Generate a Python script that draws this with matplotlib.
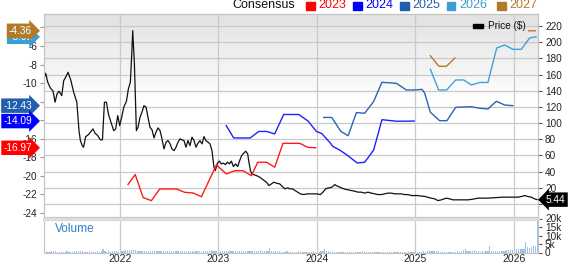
import matplotlib
matplotlib.use("Agg")
import matplotlib.pyplot as plt
import matplotlib.transforms as mtransforms
from matplotlib.patches import Rectangle
import numpy as np

plt.rcParams["font.family"] = ["Liberation Sans", "DejaVu Sans"]

# ---- data (time in decimal years) ----
PRICE_T = [
    2021.236, 2021.249, 2021.270, 2021.297, 2021.324, 2021.344, 2021.364, 2021.384, 2021.412, 2021.432,
    2021.452, 2021.476, 2021.505, 2021.533, 2021.565, 2021.587, 2021.601, 2021.620, 2021.633, 2021.655,
    2021.683, 2021.703, 2021.729, 2021.750, 2021.777, 2021.804, 2021.825, 2021.845, 2021.865, 2021.885,
    2021.906, 2021.939, 2021.959, 2021.980, 2022.000, 2022.020, 2022.041, 2022.068, 2022.088, 2022.108,
    2022.122, 2022.132, 2022.149, 2022.169, 2022.186, 2022.206, 2022.226, 2022.246, 2022.267, 2022.287,
    2022.307, 2022.328, 2022.348, 2022.368, 2022.389, 2022.409, 2022.429, 2022.449, 2022.470, 2022.490,
    2022.511, 2022.530, 2022.551, 2022.571, 2022.591, 2022.612, 2022.632, 2022.652, 2022.672, 2022.693,
    2022.713, 2022.733, 2022.754, 2022.774, 2022.794, 2022.814, 2022.835, 2022.855, 2022.875, 2022.896,
    2022.916, 2022.936, 2022.956, 2022.970, 2022.991, 2023.011, 2023.031, 2023.052, 2023.072, 2023.092,
    2023.113, 2023.133, 2023.153, 2023.176, 2023.197, 2023.217, 2023.237, 2023.258, 2023.278, 2023.298,
    2023.311, 2023.326, 2023.339, 2023.359, 2023.386, 2023.420, 2023.453, 2023.488, 2023.514, 2023.539,
    2023.562, 2023.589, 2023.623, 2023.650, 2023.676, 2023.704, 2023.724, 2023.752, 2023.778, 2023.805,
    2023.833, 2023.866, 2023.900, 2023.934, 2023.968, 2024.001, 2024.036, 2024.062, 2024.089, 2024.117,
    2024.133, 2024.161, 2024.181, 2024.201, 2024.221, 2024.249, 2024.282, 2024.316, 2024.350, 2024.383,
    2024.417, 2024.451, 2024.485, 2024.518, 2024.553, 2024.586, 2024.620, 2024.654, 2024.688, 2024.721,
    2024.756, 2024.789, 2024.823, 2024.857, 2024.890, 2024.924, 2024.958, 2024.992, 2025.025, 2025.060,
    2025.093, 2025.144, 2025.195, 2025.228, 2025.263, 2025.313, 2025.347, 2025.380, 2025.431, 2025.482,
    2025.532, 2025.583, 2025.634, 2025.685, 2025.736, 2025.785, 2025.836, 2025.886, 2025.937, 2025.989,
    2026.039, 2026.073, 2026.108, 2026.141, 2026.175, 2026.209, 2026.234,
]
PRICE = [
    156.7, 161.6, 150.5, 143.5, 139.4, 125.8, 136.0, 139.4, 134.0, 152.5,
    156.7, 162.8, 152.5, 138.1, 125.8, 90.7, 78.4, 72.2, 70.2, 83.3,
    85.8, 88.8, 92.8, 87.5, 84.6, 79.3, 79.3, 125.8, 125.8, 111.4,
    103.1, 90.7, 92.8, 109.3, 96.9, 107.3, 119.6, 127.0, 142.2, 150.5,
    185.4, 214.2, 173.1, 90.7, 94.9, 107.3, 113.5, 121.6, 119.6, 107.3,
    94.9, 91.6, 81.7, 88.8, 94.1, 90.7, 80.5, 68.1, 76.4, 78.4,
    74.3, 68.1, 66.0, 70.2, 76.4, 80.5, 79.3, 78.4, 70.2, 78.4,
    72.2, 82.6, 78.4, 70.2, 75.2, 78.4, 74.3, 83.3, 78.4, 76.4,
    74.3, 66.0, 45.6, 41.4, 50.5, 53.0, 49.6, 50.5, 48.8, 51.7,
    49.6, 53.0, 46.3, 49.6, 46.3, 53.7, 59.9, 62.8, 65.3, 62.0,
    51.7, 41.4, 37.3, 36.4, 35.2, 33.2, 30.2, 27.0, 22.8, 24.9,
    27.0, 25.8, 24.9, 21.6, 18.8, 20.0, 18.8, 18.8, 16.7, 14.7,
    12.6, 11.7, 12.6, 12.6, 12.6, 12.6, 11.7, 14.7, 18.8, 20.0,
    20.0, 21.6, 24.1, 22.5, 21.6, 20.0, 18.4, 17.5, 16.7, 15.9,
    14.7, 14.7, 13.5, 14.7, 13.5, 12.6, 11.7, 11.7, 12.6, 13.5,
    13.5, 12.6, 12.6, 12.6, 11.7, 11.7, 10.5, 10.5, 10.5, 9.8,
    9.5, 7.7, 6.4, 4.3, 5.2, 7.3, 6.4, 5.2, 5.2, 5.2,
    5.2, 6.0, 7.3, 7.3, 7.3, 7.7, 8.0, 8.5, 8.5, 8.5,
    8.5, 9.3, 10.5, 9.3, 8.5, 6.4, 5.44,
]

EPS23_T = [2022.084, 2022.157, 2022.238, 2022.321, 2022.406, 2022.575, 2022.659, 2022.743, 2022.829,
           2022.981, 2023.082, 2023.166, 2023.250, 2023.336, 2023.400, 2023.491, 2023.572, 2023.656,
           2023.826, 2023.907, 2023.988]
EPS23 = [-20.92, -19.85, -22.33, -22.67, -21.41, -21.41, -21.77, -21.84, -22.24,
         -18.82, -19.79, -19.44, -19.44, -19.98, -18.53, -18.53, -19.07, -16.49,
         -16.49, -16.92, -16.97]

EPS24_T = [2023.080, 2023.156, 2023.324, 2023.410, 2023.491, 2023.572, 2023.663, 2023.815, 2023.910,
           2023.995, 2024.049, 2024.130, 2024.163, 2024.231, 2024.315, 2024.409, 2024.485, 2024.576,
           2024.660, 2024.809, 2024.987]
EPS24 = [-14.57, -15.91, -15.91, -15.21, -15.21, -15.48, -13.38, -13.38, -14.08,
         -15.21, -15.43, -16.38, -16.83, -17.21, -17.82, -18.61, -18.53, -17.21,
         -13.94, -14.11, -14.09]

EPS25_T = [2024.069, 2024.150, 2024.244, 2024.317, 2024.401, 2024.485, 2024.576, 2024.660, 2024.806,
           2024.908, 2024.992, 2025.066, 2025.093, 2025.151, 2025.245, 2025.319, 2025.408, 2025.567,
           2025.651, 2025.735, 2025.820, 2025.905, 2025.989]
EPS25 = [-13.70, -13.70, -15.21, -15.67, -13.17, -13.25, -11.98, -9.91, -10.02,
         -10.74, -10.74, -10.67, -11.06, -13.14, -14.05, -14.05, -12.61, -12.54,
         -12.71, -12.79, -11.96, -12.36, -12.43]

EPS26_T = [2025.151, 2025.235, 2025.316, 2025.408, 2025.489, 2025.567, 2025.651, 2025.735, 2025.824,
           2025.905, 2025.989, 2026.074, 2026.158, 2026.224]
EPS26 = [-8.50, -10.74, -10.74, -9.66, -9.66, -10.20, -9.93, -9.93, -6.22,
         -5.89, -6.36, -6.36, -5.14, -5.01]

EPS27_T = [2025.151, 2025.238, 2025.313, 2025.401, np.nan, 2026.150, 2026.215]
EPS27 = [-7.05, -8.19, -8.19, -7.29, np.nan, -4.36, -4.36]

# weekly volume (thousands of shares)
VOL_START = 2021.235
VOLUME = [
    0.5, 0.6, 0.4, 0.5, 0.7, 1.0, 0.6, 0.5, 0.4, 0.5, 0.4, 0.5, 0.6, 0.5, 0.4, 0.5, 0.6, 0.7, 1.0, 0.8, 0.6, 0.5, 0.4, 0.5, 0.6, 0.5,
    0.4, 0.5, 0.6, 0.5, 0.7, 1.9, 0.6, 0.5, 0.6, 0.5, 0.7, 1.0, 0.6, 0.5, 0.7, 0.8, 0.9, 1.5, 1.7, 1.6, 1.7, 1.5, 1.2, 0.9, 0.8, 0.7,
    0.6, 0.7, 0.8, 0.6, 0.7, 0.9, 0.8, 0.7, 0.6, 0.7, 0.8, 0.7, 0.9, 1.0, 0.9, 0.8, 0.7, 0.6, 0.7, 0.8, 0.6, 0.7, 0.6, 0.5, 0.6, 0.7,
    0.6, 0.5, 0.6, 0.7, 0.6, 0.5, 0.6, 0.7, 0.6, 0.8, 1.2, 0.9, 0.7, 0.8, 1.3, 1.0, 0.8, 0.7, 0.6, 0.7, 0.8, 1.0, 0.9, 0.8, 1.0, 0.9,
    0.8, 0.9, 0.7, 0.6, 0.7, 0.8, 0.6, 0.7, 0.8, 0.9, 1.5, 0.8, 0.7, 0.6, 0.7, 2.5, 0.9, 0.7, 0.6, 0.5, 0.6, 0.5, 0.4, 0.5, 0.6, 0.5,
    0.4, 0.5, 0.4, 0.5, 0.6, 0.5, 0.4, 0.5, 0.4, 0.5, 0.4, 0.5, 0.6, 0.5, 0.4, 0.5, 0.7, 0.8, 1.9, 0.7, 0.6, 0.5, 0.4, 0.5, 0.4, 0.5,
    0.4, 0.3, 0.4, 0.5, 0.4, 0.3, 0.4, 0.5, 0.4, 0.3, 0.4, 0.5, 1.0, 0.5, 0.4, 0.3, 0.4, 0.3, 0.4, 0.5, 0.4, 0.3, 0.4, 0.3, 0.4, 0.3,
    0.4, 0.3, 0.4, 0.5, 0.4, 0.3, 0.4, 0.3, 0.4, 0.5, 0.4, 0.3, 0.4, 0.3, 0.4, 0.5, 0.4, 0.5, 0.6, 0.5, 0.6, 0.7, 0.9, 1.0, 0.8, 0.7,
    0.6, 0.5, 0.4, 0.5, 0.4, 0.5, 0.4, 0.3, 0.4, 0.5, 0.6, 0.5, 0.7, 1.2, 1.9, 0.8, 0.6, 0.7, 0.9, 1.3, 0.7, 0.6, 0.5, 0.6, 0.5, 0.6,
    0.7, 3.8, 0.8, 0.7, 0.6, 0.7, 0.8, 0.7, 0.9, 1.0, 1.3, 1.5, 1.2, 1.4, 1.6, 2.3, 2.1, 2.0, 1.8, 1.9, 6.0, 3.0, 2.6, 3.3, 3.8, 3.6,
    19.0,
]

YEARS = [2022, 2023, 2024, 2025, 2026]
EPS_TICKS = [-24, -22, -20, -18, -16, -14, -12, -10, -8, -6, -4]
# labels hidden under the value tags are left blank
EPS_LABELS = ["-24", "-22", "-20", "-18", "-16", "", "", "-10", "-8", "-6", ""]
PRICE_TICKS = [0, 20, 40, 60, 80, 100, 120, 140, 160, 180, 200, 220]
PRICE_LABELS = ["", "20", "40", "60", "80", "100", "120", "140", "160", "180", "200", "220"]
VOL_TICKS = [0, 5, 10, 15, 20]
VOL_LABELS = ["0", "5k", "10k", "15k", "20k"]

SERIES = [
    ("2023", EPS23_T, EPS23, "#ff1a1a"),
    ("2024", EPS24_T, EPS24, "#2020ff"),
    ("2025", EPS25_T, EPS25, "#2b65b5"),
    ("2026", EPS26_T, EPS26, "#3fa3d6"),
    ("2027", EPS27_T, EPS27, "#b27b2c"),
]
LEGEND_COLORS = {"2023": "#ff0000", "2024": "#0000ff", "2025": "#1f5fae",
                 "2026": "#3a9fd0", "2027": "#b07a2a"}
TAGS = [("-5.01", -5.01, "#3a9fd0"), ("-4.36", -4.36, "#b07a2a"),
        ("-12.43", -12.43, "#1f5fae"), ("-14.09", -14.09, "#0000ff"),
        ("-16.97", -16.97, "#ff0000")]

W, H = 571, 264
GRID = "#c9c9c9"
XLIM = (2021.232, 2026.243)


def px_rect(x0, y0, x1, y1):
    return [x0 / W, 1 - y1 / H, (x1 - x0) / W, (y1 - y0) / H]


fig = plt.figure(figsize=(W / 100, H / 100), dpi=100)

# gradient background of price panel
ax_bg = fig.add_axes(px_rect(44, 14, 538, 217), zorder=-1)
grad = np.clip(np.linspace(0.885, 1.15, 256), 0, 1)[:, None]
ax_bg.imshow(np.dstack([grad, grad, grad]), aspect="auto", extent=[0, 1, 0, 1])
ax_bg.axis("off")

ax_px = fig.add_axes(px_rect(44, 14, 538, 217))
ax_px.set_facecolor("none")
ax_px.plot(PRICE_T, PRICE, color="#111111", lw=0.9, zorder=3)

ax_eps = ax_px.twinx()
for name, t, v, c in SERIES:
    ax_eps.plot(t, v, color=c, lw=1.0)

# twinx moves the original ticks to the left; put them back
ax_px.yaxis.tick_right()
ax_px.set_xlim(*XLIM)
ax_px.set_ylim(-16, 234.8)
ax_px.set_yticks(PRICE_TICKS)
ax_px.set_yticklabels(PRICE_LABELS)
ax_px.set_xticks(YEARS)
ax_px.grid(True, color=GRID, lw=0.9)
ax_px.tick_params(axis="y", length=3, width=0.8, color="#555555", labelsize=7.2, pad=2,
                  labelcolor="#222222")
ax_px.tick_params(axis="x", length=0, labelbottom=False)
for s in ax_px.spines.values():
    s.set_color("#c4c4c4")

ax_eps.yaxis.tick_left()
ax_eps.set_ylim(-24.43, -2.55)
ax_eps.set_xlim(*XLIM)
ax_eps.set_yticks(EPS_TICKS)
ax_eps.set_yticklabels(EPS_LABELS)
ax_eps.tick_params(axis="y", length=3, width=0.8, color="#999999", labelsize=7.2, pad=2,
                   labelcolor="#222222")
for s in ax_eps.spines.values():
    s.set_color("#c4c4c4")

# volume panel
ax_vol = fig.add_axes(px_rect(44, 218.5, 538, 252.5))
vol_t = VOL_START + np.arange(len(VOLUME)) / 52.0
ax_vol.bar(vol_t, VOLUME, width=0.012, color="#9fc4e6", lw=0)
ax_vol.set_xlim(*XLIM)
ax_vol.set_ylim(0, 20)
ax_vol.set_xticks(YEARS)
ax_vol.set_xticklabels([str(y) for y in YEARS])
ax_vol.set_yticks(VOL_TICKS)
ax_vol.set_yticklabels(VOL_LABELS)
ax_vol.yaxis.tick_right()
ax_vol.grid(True, axis="x", color=GRID, lw=0.9)
ax_vol.tick_params(axis="y", length=3, width=0.8, color="#555555", labelsize=7.2, pad=2,
                   labelcolor="#222222")
ax_vol.tick_params(axis="x", length=0, labelsize=7.5, pad=1, labelcolor="#222222")
for s in ax_vol.spines.values():
    s.set_color("#c4c4c4")
ax_vol.spines["top"].set_color("#dcdcdc")
ax_vol.spines["top"].set_linewidth(2.5)
ax_vol.text(0.022, 0.7, "Volume", transform=ax_vol.transAxes, color="#2f7fc1",
            fontsize=8.6, va="center", ha="left")

# value tags on the left (EPS) and right (price)
eps_tr = mtransforms.blended_transform_factory(ax_eps.transAxes, ax_eps.transData)
for label, val, c in TAGS:
    fig.text(-0.024, val, label, transform=eps_tr, ha="right", va="center", color="white",
             fontsize=7.3, bbox=dict(boxstyle="rarrow,pad=0.22", fc=c, ec="none"))
px_tr = mtransforms.blended_transform_factory(ax_px.transAxes, ax_px.transData)
fig.text(1.016, PRICE[-1], f"{PRICE[-1]:.2f}", transform=px_tr, ha="left", va="center",
         color="white", fontsize=7.3,
         bbox=dict(boxstyle="larrow,pad=0.22", fc="black", ec="none"))

# "Price ($)" key inside the panel
fig.patches.append(Rectangle((473 / W, 1 - 27.5 / H), 10 / W, 4 / H, color="black",
                             transform=fig.transFigure))
fig.text(488 / W, 1 - 26 / H, "Price ($)", fontsize=7.2, va="center", ha="left", color="#111111")

# top legend
fig.text(232.7 / W, 1 - 5.5 / H, "Consensus", fontsize=9, va="center", ha="left", color="#111111")
legend_x = {"2023": 306, "2024": 353.3, "2025": 400, "2026": 446.7, "2027": 497.3}
for name, x0 in legend_x.items():
    c = LEGEND_COLORS[name]
    fig.patches.append(Rectangle((x0 / W, 1 - 9.5 / H), 8.5 / W, 8 / H, color=c,
                                 transform=fig.transFigure))
    fig.text((x0 + 12.5) / W, 1 - 5.5 / H, name, fontsize=9, va="center", ha="left", color=c)

fig.savefig("out.png", dpi=100)
